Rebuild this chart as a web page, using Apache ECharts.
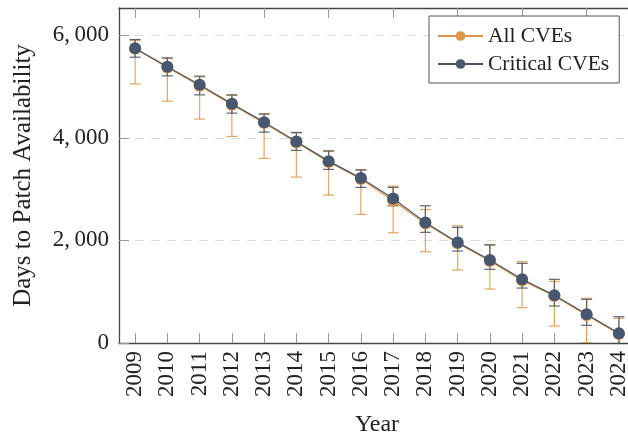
<!DOCTYPE html>
<html>
<head>
<meta charset="utf-8">
<script src="https://cdn.jsdelivr.net/npm/echarts@6/dist/echarts.min.js"></script>
<style>html,body{margin:0;padding:0;background:#fff}#c{width:628px;height:435px}</style>
</head>
<body>
<div id="c"></div>
<script>
var years = ['2009','2010','2011','2012','2013','2014','2015','2016','2017','2018','2019','2020','2021','2022','2023','2024'];
var allCves = [5735, 5370, 5015, 4645, 4290, 3910, 3530, 3195, 2772, 2330, 1945, 1600, 1220, 915, 540, 175];
var allLow = [5051, 4714, 4364, 4027, 3598, 3234, 2883, 2507, 2149, 1779, 1422, 1052, 688, 331, 5, -200];
var allHigh = [5900, 5545, 5190, 4825, 4455, 4095, 3735, 3365, 3058, 2600, 2285, 1905, 1584, 1200, 871, 480];
var critCves = [5747, 5383, 5032, 4662, 4305, 3929, 3545, 3214, 2818, 2351, 1961, 1617, 1241, 929, 559, 189];
var critLow = [5571, 5207, 4837, 4480, 4110, 3754, 3384, 3033, 2675, 2157, 1792, 1436, 1071, 721, 344, -150];
var critHigh = [5916, 5558, 5201, 4837, 4467, 4104, 3746, 3376, 3033, 2675, 2254, 1915, 1553, 1241, 851, 512];
var yTicks = [0, 2000, 4000, 6000];

var FONT = '"Liberation Serif", "DejaVu Serif", serif';
var ORANGE = '#DC9748';
var BLUE = '#46576F';

function errData(low, high) {
  return years.map(function (y, i) { return [i, low[i], high[i]]; });
}
function errSeries(id, low, high, color, opacity) {
  return {
    type: 'custom',
    id: id,
    clip: true,
    silent: true,
    data: errData(low, high),
    encode: { x: 0, y: [1, 2] },
    renderItem: function (params, api) {
      var x = api.value(0);
      var lo = api.coord([x, api.value(1)]);
      var hi = api.coord([x, api.value(2)]);
      var hw = 5.5;
      var st = { stroke: color, lineWidth: 1.2, opacity: opacity };
      return {
        type: 'group',
        children: [
          { type: 'line', shape: { x1: lo[0], y1: lo[1], x2: hi[0], y2: hi[1] }, style: st },
          { type: 'line', shape: { x1: lo[0] - hw, y1: lo[1], x2: lo[0] + hw, y2: lo[1] }, style: st },
          { type: 'line', shape: { x1: hi[0] - hw, y1: hi[1], x2: hi[0] + hw, y2: hi[1] }, style: st }
        ]
      };
    }
  };
}

var chart = echarts.init(document.getElementById('c'), null, { renderer: 'canvas' });
chart.setOption({
  animation: false,
  backgroundColor: '#fff',
  grid: { left: 119, top: 8, width: 516, height: 335, containLabel: false, outerBoundsMode: 'none' },
  legend: {
    orient: 'vertical',
    left: 429,
    top: 16,
    padding: [9, 10, 8, 8],
    itemWidth: 45,
    itemHeight: 12,
    itemGap: 6,
    borderColor: '#555',
    borderWidth: 1,
    backgroundColor: '#fff',
    textStyle: { fontFamily: FONT, fontSize: 21.5, color: '#222' },
    data: ['All CVEs', 'Critical CVEs']
  },
  xAxis: [{
    type: 'category',
    data: years,
    boundaryGap: true,
    name: 'Year',
    nameLocation: 'middle',
    nameGap: 70,
    nameTextStyle: { fontFamily: FONT, fontSize: 24, color: '#222' },
    axisLine: { show: true, lineStyle: { color: '#444', width: 1.3 } },
    axisTick: { show: true, inside: true, alignWithLabel: true, length: 10, lineStyle: { color: '#999', width: 1 } },
    axisLabel: { rotate: 90, margin: 8, fontFamily: FONT, fontSize: 23, color: '#222' },
    splitLine: { show: false }
  }, {
    type: 'category',
    data: years,
    position: 'top',
    boundaryGap: true,
    axisLine: { show: true, lineStyle: { color: '#444', width: 1.3 } },
    axisTick: { show: true, inside: true, alignWithLabel: true, length: 10, lineStyle: { color: '#999', width: 1 } },
    axisLabel: { show: false },
    splitLine: { show: false }
  }],
  yAxis: [{
    type: 'value',
    min: 0,
    max: 6530,
    interval: 2000,
    name: 'Days to Patch Availability',
    nameLocation: 'middle',
    nameRotate: 90,
    nameGap: 83,
    nameTextStyle: { fontFamily: FONT, fontSize: 25, color: '#222' },
    axisLine: { show: true, lineStyle: { color: '#444', width: 1.3 } },
    axisTick: { show: true, inside: true, length: 10, lineStyle: { color: '#999', width: 1 } },
    axisLabel: {
      margin: 10, fontFamily: FONT, fontSize: 23, color: '#222',
      showMaxLabel: false,
      formatter: function (v) {
        if (yTicks.indexOf(v) < 0) return '';
        var s = String(v);
        return s.length > 3 ? s.slice(0, s.length - 3) + ',\u2009' + s.slice(-3) : s;
      }
    },
    splitLine: { show: true, lineStyle: { color: '#DCDCDC', type: [9, 7], width: 1 } }
  }],
  series: [
    errSeries('errAll', allLow, allHigh, ORANGE, 0.85),
    {
      type: 'line', name: 'All CVEs', data: allCves,
      symbol: 'circle', symbolSize: 12,
      lineStyle: { color: ORANGE, width: 1.2 },
      itemStyle: { color: ORANGE },
      z: 3
    },
    errSeries('errCrit', critLow, critHigh, '#4E5663', 0.9),
    {
      type: 'line', name: 'Critical CVEs', data: critCves,
      symbol: 'circle', symbolSize: 12,
      lineStyle: { color: '#4B5260', width: 1.2 },
      itemStyle: { color: BLUE },
      z: 4
    }
  ]
});
</script>
</body>
</html>
